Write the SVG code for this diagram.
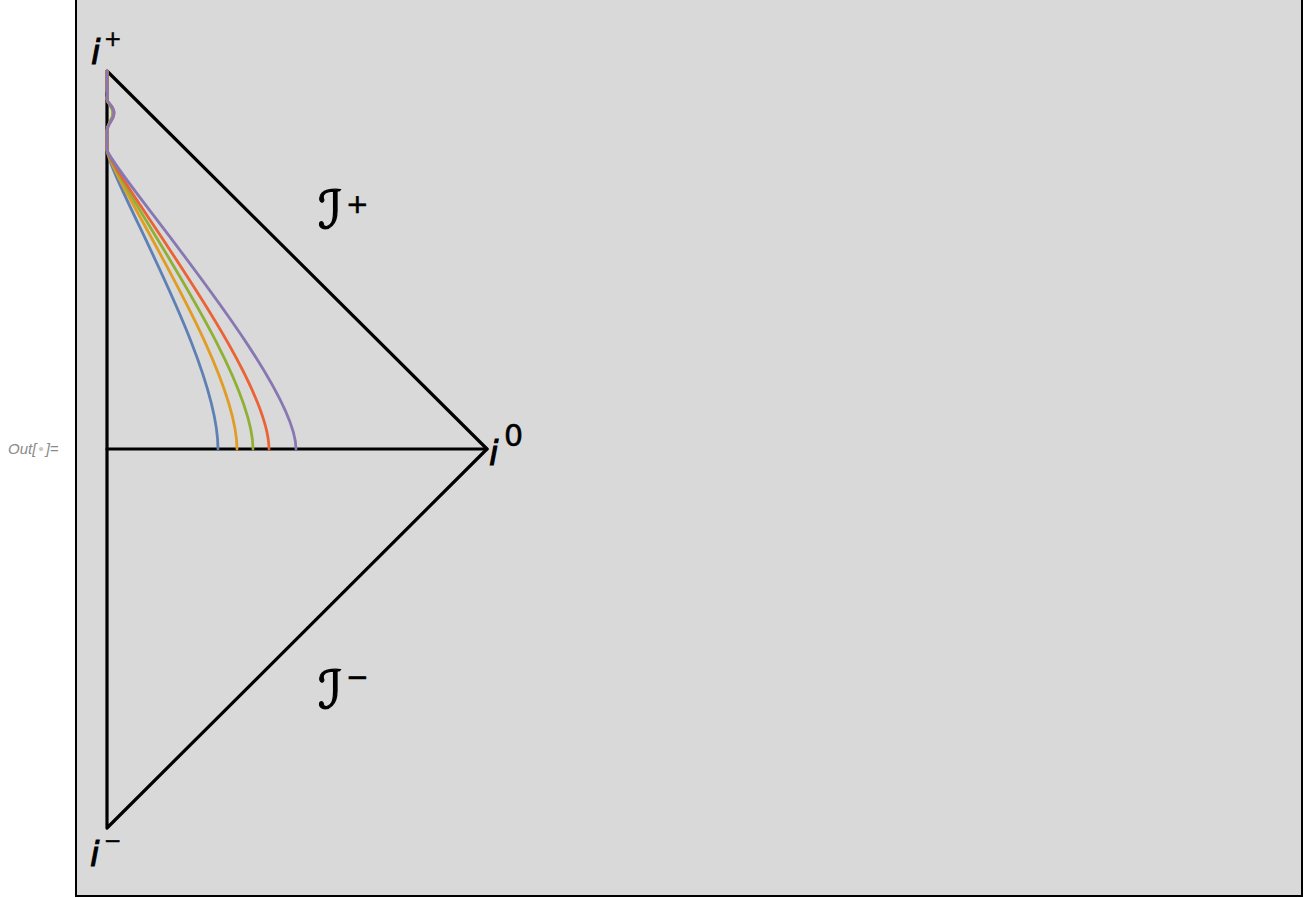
<svg xmlns="http://www.w3.org/2000/svg" width="1304" height="898" viewBox="0 0 1304 898">
<style>
.ln{stroke:#000;stroke-width:3.2;fill:none;stroke-linecap:round;stroke-linejoin:round}
.cv{fill:none;stroke-width:2.8;stroke-linecap:round;stroke-linejoin:round}
.lbl{font-family:"DejaVu Sans",sans-serif;font-style:italic;font-size:34px;fill:#000;stroke:#000;stroke-width:1}
.scr{font-family:"DejaVu Sans",sans-serif;font-style:italic;font-size:52px;fill:#000;stroke:#000;stroke-width:1.2}
.sup{font-family:"DejaVu Sans",sans-serif;font-size:21px;fill:#000;stroke:#000;stroke-width:0.5}
.sup2{font-family:"DejaVu Sans",sans-serif;font-size:27px;fill:#000;stroke:#000;stroke-width:0.6}
</style>
<rect x="0" y="0" width="1304" height="898" fill="#fff"/>
<rect id="frame" x="76" y="-10" width="1226" height="906" fill="#d9d9d9" stroke="#000" stroke-width="2"/>
<text x="8" y="454" font-family="Liberation Sans, sans-serif" font-style="italic" font-size="15" fill="#8a8a8a">Out[<tspan fill="#c8c8c8" dx="2">•</tspan><tspan dx="2">]=</tspan></text>
<g id="connectors">
<path class="ln" d="M107,71 L487,449 L107,828 Z"/>
<path class="ln" d="M107,449 L487,449"/>
</g>
<g id="curves">
<path class="cv" stroke="#5E81B5" d="M107,71 L107,88 C107,92 108,94 107,98 C106,103 113,105 113,113 C113,121 106,124 107,133 L107,150 C112,185 218,360 218,449"/>
<path class="cv" stroke="#E19C24" d="M107,71 L107,88 C107,92 108,94 107,98 C106,103 113,105 113,113 C113,121 106,124 107,133 L107,150 C113,182 237,365 237,449"/>
<path class="cv" stroke="#8FB032" d="M107,71 L107,88 C107,92 108,94 107,98 C106,103 113,105 113,113 C113,121 106,124 107,133 L107,150 C113.5,180 253,369 253,449"/>
<path class="cv" stroke="#EB6235" d="M107,71 L107,88 C107,92 108,94 107,98 C106,103 114,105 114,113 C114,121 106,124 107,133 L107,150 C114,178 269,373 269,449"/>
<path class="cv" stroke="#8778B3" d="M107,71 L107,88 C107,92 108,94 107,98 C106,103 114,105 114,113 C114,121 106,124 107,133 L107,150 C115,175 296,380 296,449"/>
</g>
<g id="i-plus"><text class="lbl" x="91" y="64">i</text><text class="sup" x="104" y="46">+</text></g>
<g id="i-zero"><text class="lbl" x="489" y="465">i</text><text class="sup" x="504" y="446" style="font-size:30px">0</text></g>
<g id="i-minus"><text class="lbl" x="90" y="866">i</text><text class="sup" x="104" y="848">−</text></g>
<g id="scri-plus"><text class="scr" x="318" y="228">ℐ</text><text class="sup2" x="346" y="213">+</text></g>
<g id="scri-minus"><text class="scr" x="318" y="708">ℐ</text><text class="sup2" x="346" y="686">−</text></g>
</svg>
